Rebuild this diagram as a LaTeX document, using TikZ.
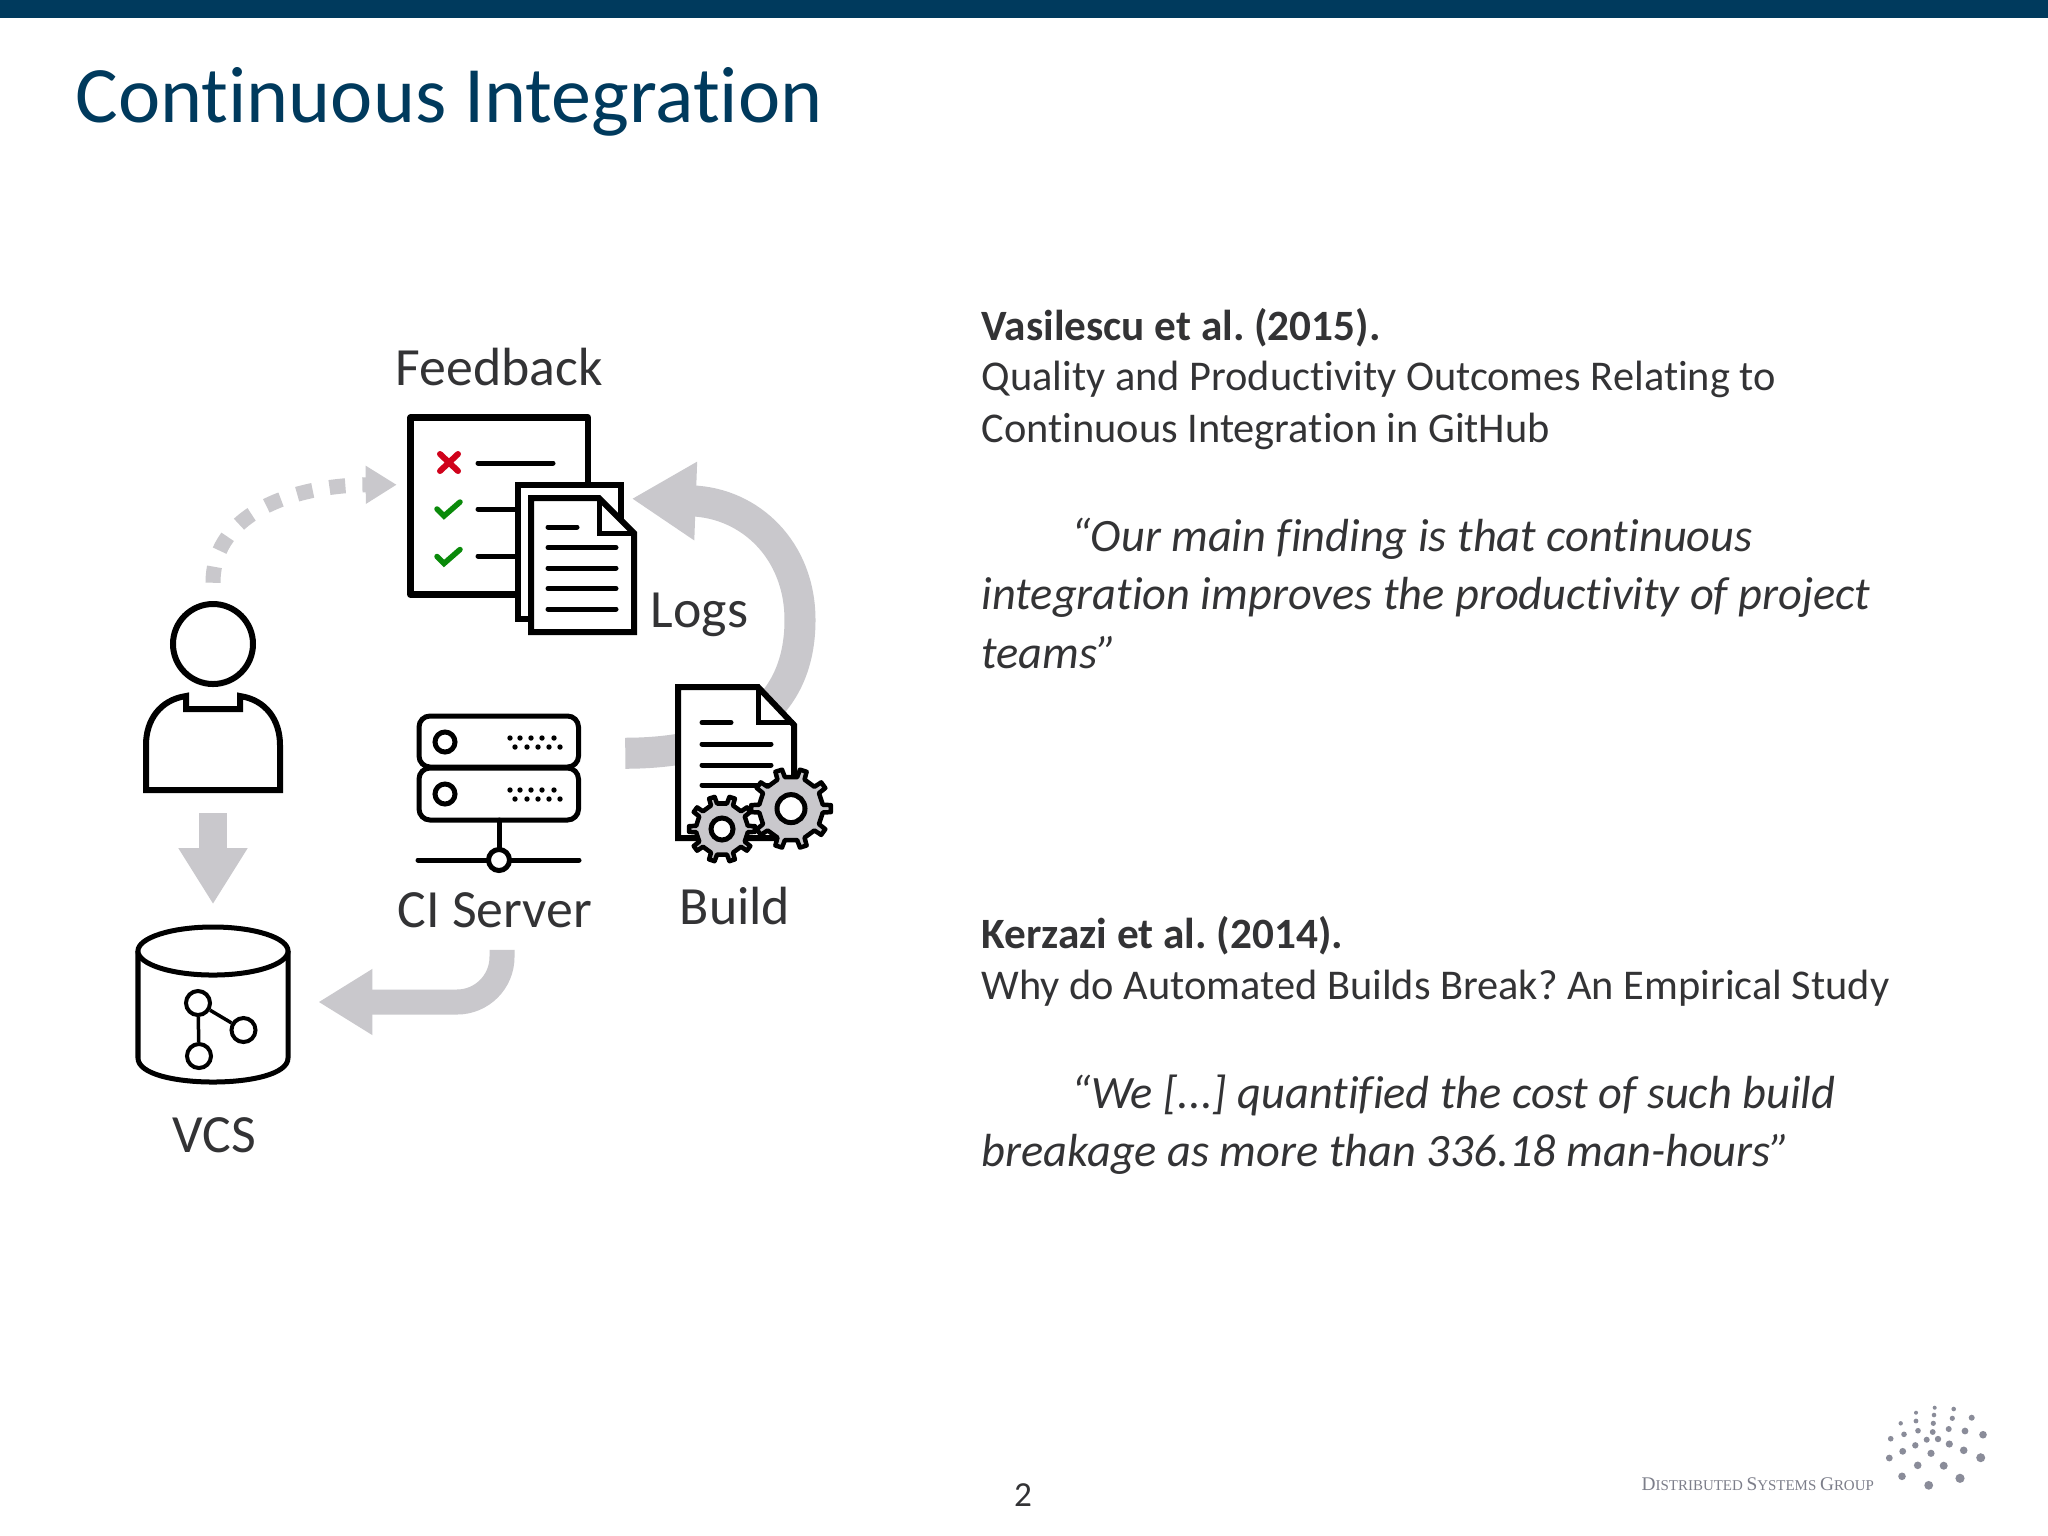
\documentclass[tikz,border=0pt]{standalone}
\usepackage{fontspec}
\newfontfamily\slidefont[Ligatures=NoCommon]{Carlito}
\newfontfamily\logofont{Liberation Serif}
\usetikzlibrary{positioning,arrows.meta}
\definecolor{barblue}{HTML}{003A5D}
\definecolor{flowgray}{HTML}{C9C8CC}
\definecolor{textgray}{HTML}{333335}
\definecolor{logogray}{HTML}{8A8C99}
\definecolor{okgreen}{HTML}{0A8A0A}
\definecolor{badred}{HTML}{D0021B}
% one unit is one pixel of the slide
\newcommand{\gearicon}[5]{%
    \begin{scope}[shift={(#1,#2)}]
        \draw[iconline, fill=flowgray, line width=.045cm, line join=round] (-7:#4) \foreach \t in {0,36,...,324} {
            -- (\t-7:#4) -- (\t-5:#3) -- (\t+5:#3) -- (\t+7:#4) -- (\t+29:#4)
        } -- cycle;
        \draw[iconline, fill=white, line width=.05cm] (0,0) circle (#5);
    \end{scope}
}
\newcommand{\logocap}[1]{{\fontsize{5.5}{6}\selectfont #1}}
\begin{document}
\frenchspacing
\begin{tikzpicture}[
        x=.01cm, y=-.01cm,
        every node/.style={font=\slidefont, text=textgray, inner sep=0pt},
        iconbox/.style={minimum width=#1, inner sep=0pt},
        iconline/.style={draw=black, line width=.06cm},
        thinline/.style={draw=black, line width=.05cm, line cap=round},
        flow/.style={draw=flowgray, line width=.28cm, -{Triangle[length=.56cm,width=.65cm]}},
        bendflow/.style={draw=flowgray, line width=.25cm, -{Triangle[length=.54cm,width=.62cm]}},
        bigflow/.style={draw=flowgray, line width=.31cm, -{Triangle[length=.64cm,width=.74cm]}},
        dotflow/.style={draw=flowgray, line width=.15cm, dash pattern=on .16cm off .17cm, -{Triangle[length=.31cm,width=.36cm]}},
        iconlabel/.style={anchor=base, font=\slidefont\fontsize{15.3}{18}\selectfont},
        heading/.style={anchor=base west, font=\slidefont\bfseries\fontsize{12.3}{14.7}\selectfont},
        paper/.style={anchor=north west, align=left, font=\slidefont\fontsize{12.05}{14.7}\selectfont},
        quotation/.style={anchor=north west, align=left, font=\slidefont\itshape\fontsize{13.2}{16.7}\selectfont},
        graphdot/.style={circle, draw=black, fill=white, line width=.04cm, minimum size=.24cm}
    ]
    \useasboundingbox (0,0) rectangle (2048,1535);
    \fill[white] (0,0) rectangle (2048,1535);
    \fill[barblue] (0,0) rectangle (2048,18);
    \node[anchor=base west, font=\slidefont\fontsize{22.75}{26}\selectfont, text=barblue] (title) at (75,122) {Continuous Integration};

    % icon places
    \node[iconbox=1.40cm, minimum height=1.91cm] (person) at (213,697) {};
    \node[iconbox=1.55cm, minimum height=1.54cm] (vcs) at (213,1002) {};
    \node[iconbox=1.83cm, minimum height=1.83cm] (feedback) at (499,506) {};
    \node[iconbox=1.21cm, minimum height=1.52cm] (logs) at (575.5,558) {};
    \node[iconbox=1.65cm, minimum height=1.10cm] (ciserver) at (499,768) {};
    \node[iconbox=1.21cm, minimum height=1.57cm] (build) at (735.5,762) {};

    % connectors
    \draw[flow, shorten <=.20cm, shorten >=.20cm] (person.south) -- (vcs.north);
    \draw[dotflow, shorten <=.18cm, shorten >=.10cm] (person.north) .. controls (213,510) and (300,485) .. (feedback.167);
    \draw[bendflow, rounded corners=.45cm, shorten <=1.26cm, shorten >=.27cm] ([xshift=.03cm]ciserver.south) |- (vcs.east);
    \draw[bigflow, shorten <=.43cm, shorten >=-.05cm] (ciserver.10) .. controls (760,753) and (800,690) .. (800,620) .. controls (800,550) and (750,503) .. (logs.44);

    % feedback sheet
    \draw[iconline, fill=white, line width=.065cm, line join=round] (410.5,417.5) rectangle (588,594.5);
    \draw[badred, line width=.06cm, line cap=round] (440,454) -- (458,471) (458,454) -- (440,471);
    \foreach \y in {0,47.5}
        \draw[okgreen, line width=.055cm, line cap=round] (437,509+\y) -- (444,516+\y) -- (460,502+\y);
    \foreach \y in {463,509,556}
        \draw[thinline] (478,\y) -- (553,\y);

    % logs
    \draw[iconline, fill=white] (518,485) rectangle (621,619);
    \draw[iconline, fill=white] (531,498) -- (599,498) -- (634,533) -- (634,632) -- (531,632) -- cycle;
    \draw[iconline, line width=.05cm] (599,498) -- (599,533) -- (634,533);
    \draw[thinline] (548,527) -- (577,527);
    \foreach \y in {547.5,568,588.5,609}
        \draw[thinline] (548,\y) -- (616,\y);

    % person
    \draw[iconline, fill=white] (213,644) circle (40);
    \draw[iconline, fill=white] (186,696) .. controls (160,700) and (146,720) .. (146,745) -- (146,790) -- (280,790) -- (280,745) .. controls (280,720) and (266,700) .. (240,696) -- (240,709) -- (186,709) -- cycle;

    % vcs
    \draw[iconline, line width=.05cm, fill=white] (138,951) -- (138,1058) .. controls (138,1074) and (175,1082) .. (213,1082) .. controls (251,1082) and (288,1074) .. (288,1058) -- (288,951);
    \draw[iconline, line width=.05cm, fill=white] (213,951) ellipse [x radius=.75cm, y radius=.24cm];
    \node[graphdot] (nodetop) at (198,1003) {};
    \node[graphdot] (noderight) at (243.5,1030) {};
    \node[graphdot] (nodebottom) at (199,1056) {};
    \draw[black, line width=.035cm] (nodetop) -- (noderight);
    \draw[black, line width=.035cm] (nodetop) -- (nodebottom);

    % ci server
    \draw[iconline, line width=.05cm, rounded corners=.11cm, fill=white] (419,716) rectangle (578.5,767);
    \draw[iconline, line width=.05cm, rounded corners=.11cm, fill=white] (419,768) rectangle (578.5,820);
    \foreach \y in {742,794}
        \draw[iconline, line width=.05cm] (445,\y) circle (10);
    \foreach \y in {0,52} {
        \foreach \x in {510,520,531,542,554}
            \fill[black] (\x,738+\y) circle (2.7);
        \foreach \x in {515,527,538,549,560}
            \fill[black] (\x,747+\y) circle (2.7);
    }
    \draw[thinline] (499,820) -- (499,860);
    \draw[thinline] (418,860) -- (579,860);
    \draw[iconline, line width=.05cm, fill=white] (499,860) circle (10.5);

    % build sheet and gears
    \draw[iconline, fill=white] (678,687) -- (758,687) -- (794,725) -- (794,838) -- (678,838) -- cycle;
    \draw[iconline, line width=.05cm] (758,687) -- (758,722) -- (794,722);
    \draw[thinline] (702,722.5) -- (731,722.5);
    \foreach \y in {744,765,785}
        \draw[thinline] (702,\y) -- (771,\y);
    \gearicon{791}{808.6}{40}{32}{14}
    \gearicon{722}{829}{33}{26}{11}

    % labels
    \node[iconlabel] (feedbacklabel) at (499,385) {Feedback};
    \node[iconlabel, anchor=base west] (logslabel) at (650,627) {Logs};
    \node[iconlabel] (cilabel) at (495,927) {CI Server};
    \node[iconlabel] (buildlabel) at (735,924) {Build};
    \node[iconlabel] (vcslabel) at (214,1152) {VCS};

    % papers
    \node[heading] (vasilescu) at (981,340) {Vasilescu et al. (2015).};
    \node[paper, below=.13cm of vasilescu.south west, anchor=north west] (vasilescutitle) {Quality and Productivity Outcomes Relating to\\Continuous Integration in GitHub};
    \node[quotation, below=.67cm of vasilescutitle.south west, anchor=north west] (vasilescuquote) {\hspace*{.90cm}“Our main finding is that continuous\\integration improves the productivity of project\\teams”};
    \node[heading] (kerzazi) at (981,948) {Kerzazi et al. (2014).};
    \node[paper, below=.14cm of kerzazi.south west, anchor=north west] (kerzazititle) {Why do Automated Builds Break? An Empirical Study};
    \node[quotation, below=.67cm of kerzazititle.south west, anchor=north west] (kerzaziquote) {\hspace*{.90cm}“We [...] quantified the cost of such build\\breakage as more than 336.18 man-hours”};

    % footer
    \node[anchor=base, font=\slidefont\fontsize{10}{12}\selectfont] (pagenum) at (1023,1506) {2};
    \node[anchor=base west, font=\logofont\fontsize{4.25}{6}\selectfont, text=logogray!90!black] (logotext) at (1641,1490) {\logocap{D}ISTRIBUTED \logocap{S}YSTEMS \logocap{G}ROUP};
    \foreach \x/\y/\r in {1934.7/1407.7/2,1953.7/1409/2.3,1916/1412.7/2,1934/1415/2.3,1971.7/1417.7/3,1952.3/1418.3/2.6,1916/1421/2.4,1933.3/1423.3/2.6,1900.7/1423.3/2.2,1918/1430.7/2.8,1932.7/1432/2.9,1948.7/1429/3,1965/1431/3.4,1983/1434.7/3.8,1904/1434.3/2.8,1890.7/1438.7/2.8,1926.7/1439.7/3,1938/1439/3.2,1949.3/1444/3.6,1915.3/1445.3/3.2,1902.7/1451.3/3.4,1931/1453.3/3.6,1963.7/1450.3/3.8,1889.3/1458/3.4,1980.7/1457.7/4.5,1917.7/1465.3/3.8,1943.7/1465.7/4,1902/1476.3/3.8,1960/1478.3/4.6,1928.7/1485.3/4.4}
        \fill[logogray] (\x,\y) circle (\r);
\end{tikzpicture}
\end{document}
